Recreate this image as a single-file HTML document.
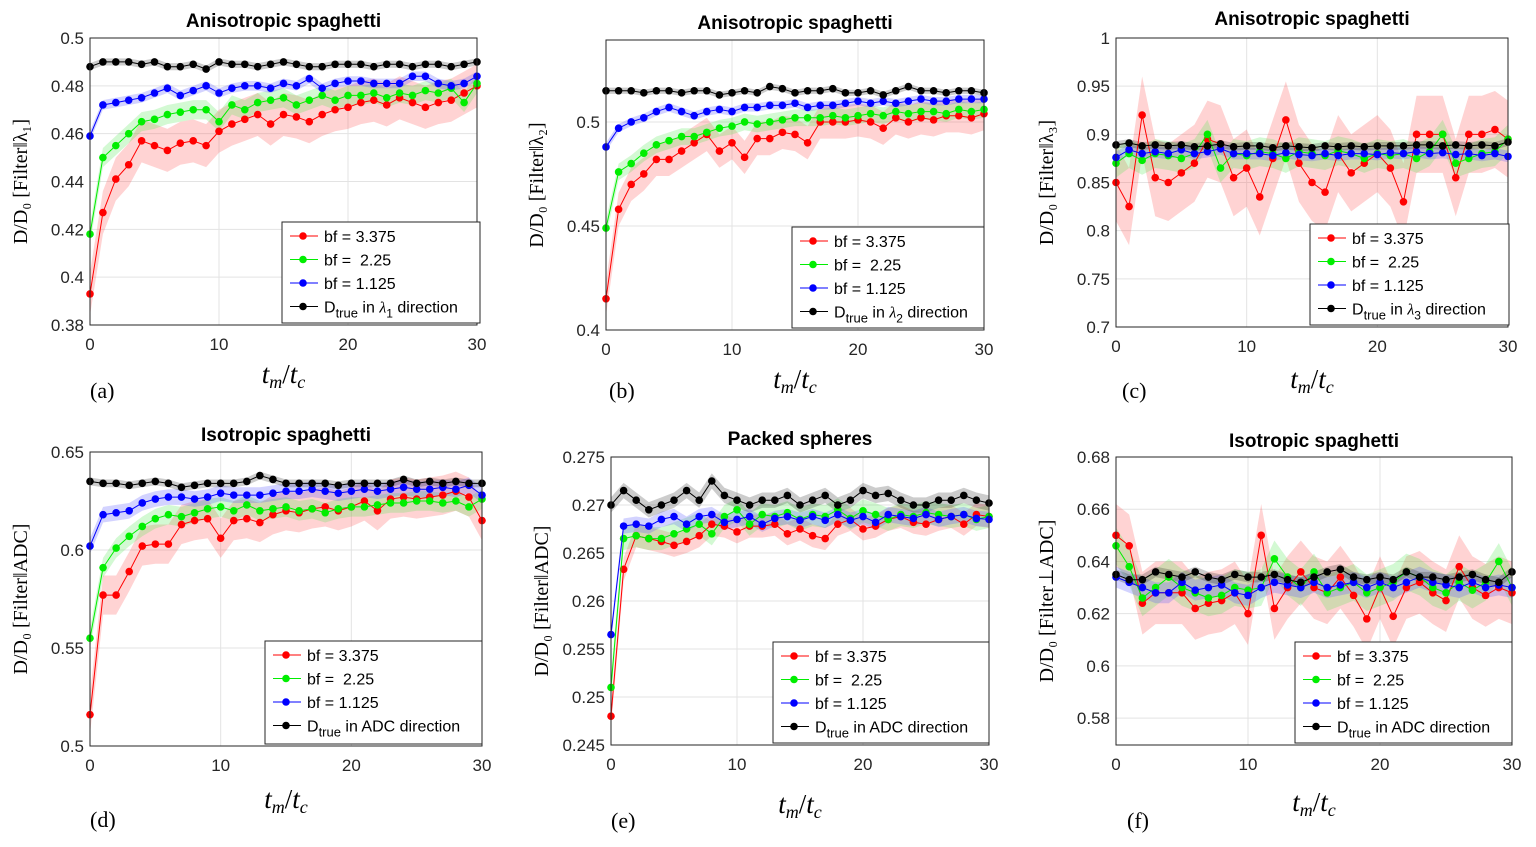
<!DOCTYPE html>
<html><head><meta charset="utf-8"><style>
body{margin:0;background:#fff}
svg{display:block}
text{font-family:"Liberation Sans",sans-serif;white-space:pre}
.ser{font-family:"Liberation Serif",serif}
</style></head><body>
<svg id="fig" width="1536" height="847" viewBox="0 0 1536 847"></svg>
<script>
const xs=[];for(let i=0;i<=30;i++)xs.push(i);
const xTicks=[0,10,20,30];
// panel a
const aBlack=[0.488,0.490,0.490,0.490,0.489,0.490,0.488,0.488,0.489,0.487,0.490,0.489,0.489,0.488,0.489,0.490,0.489,0.488,0.488,0.489,0.489,0.489,0.488,0.489,0.489,0.488,0.489,0.489,0.488,0.489,0.490];
const aBlue=[0.459,0.472,0.473,0.474,0.475,0.477,0.479,0.476,0.478,0.480,0.477,0.479,0.480,0.480,0.479,0.481,0.480,0.483,0.479,0.481,0.482,0.482,0.481,0.481,0.481,0.484,0.484,0.481,0.480,0.481,0.484];
const aGreen=[0.418,0.450,0.455,0.460,0.465,0.466,0.468,0.469,0.470,0.470,0.465,0.472,0.470,0.473,0.474,0.475,0.472,0.474,0.476,0.474,0.476,0.476,0.477,0.475,0.477,0.476,0.478,0.477,0.479,0.473,0.481];
const aRed=[0.393,0.427,0.441,0.447,0.457,0.455,0.453,0.456,0.457,0.455,0.461,0.464,0.466,0.468,0.464,0.468,0.467,0.465,0.468,0.470,0.471,0.473,0.474,0.472,0.475,0.473,0.471,0.473,0.474,0.477,0.480];
// panel b
const bBlack=[0.515,0.515,0.515,0.514,0.515,0.515,0.514,0.515,0.515,0.513,0.514,0.515,0.514,0.517,0.516,0.514,0.515,0.515,0.516,0.514,0.514,0.515,0.513,0.515,0.517,0.515,0.515,0.514,0.515,0.515,0.514];
const bBlue=[0.488,0.497,0.500,0.502,0.505,0.507,0.505,0.503,0.505,0.506,0.505,0.507,0.507,0.508,0.508,0.509,0.507,0.508,0.508,0.509,0.510,0.509,0.510,0.509,0.510,0.511,0.510,0.510,0.511,0.511,0.511];
const bGreen=[0.449,0.476,0.480,0.485,0.489,0.491,0.493,0.493,0.495,0.497,0.498,0.500,0.499,0.500,0.501,0.502,0.502,0.502,0.503,0.502,0.503,0.504,0.503,0.505,0.504,0.505,0.505,0.504,0.506,0.505,0.506];
const bRed=[0.415,0.458,0.470,0.475,0.482,0.482,0.486,0.490,0.494,0.486,0.490,0.483,0.492,0.492,0.495,0.494,0.490,0.500,0.500,0.500,0.501,0.500,0.497,0.502,0.500,0.502,0.501,0.503,0.503,0.502,0.504];
// panel c
const cBlack=[0.889,0.891,0.888,0.889,0.888,0.889,0.887,0.888,0.890,0.887,0.888,0.888,0.886,0.888,0.887,0.886,0.888,0.887,0.888,0.887,0.888,0.888,0.888,0.889,0.889,0.888,0.889,0.888,0.889,0.888,0.892];
const cBlue=[0.876,0.884,0.880,0.882,0.880,0.884,0.880,0.882,0.885,0.880,0.880,0.880,0.878,0.881,0.879,0.878,0.880,0.878,0.880,0.880,0.879,0.881,0.880,0.882,0.880,0.881,0.879,0.880,0.878,0.880,0.877];
const cGreen=[0.870,0.880,0.873,0.880,0.878,0.875,0.880,0.900,0.865,0.880,0.878,0.882,0.880,0.875,0.882,0.880,0.878,0.883,0.880,0.875,0.880,0.878,0.880,0.875,0.882,0.900,0.870,0.875,0.880,0.882,0.895];
const cRed=[0.85,0.825,0.92,0.855,0.85,0.86,0.87,0.895,0.89,0.855,0.865,0.835,0.875,0.915,0.87,0.85,0.84,0.88,0.86,0.87,0.88,0.865,0.83,0.9,0.9,0.9,0.855,0.9,0.9,0.905,0.895];
// panel d
const dBlack=[0.635,0.634,0.634,0.633,0.634,0.635,0.634,0.632,0.633,0.634,0.634,0.634,0.635,0.638,0.636,0.634,0.634,0.634,0.634,0.633,0.634,0.634,0.634,0.634,0.636,0.634,0.635,0.634,0.635,0.634,0.634];
const dBlue=[0.602,0.618,0.619,0.620,0.624,0.626,0.627,0.627,0.626,0.627,0.629,0.628,0.628,0.628,0.629,0.630,0.630,0.631,0.630,0.629,0.630,0.631,0.630,0.631,0.632,0.631,0.631,0.632,0.631,0.633,0.628];
const dGreen=[0.555,0.591,0.601,0.607,0.612,0.616,0.618,0.617,0.619,0.621,0.622,0.620,0.623,0.620,0.621,0.622,0.620,0.621,0.619,0.621,0.622,0.622,0.623,0.624,0.624,0.625,0.625,0.624,0.625,0.622,0.626];
const dRed=[0.516,0.577,0.577,0.589,0.602,0.603,0.603,0.613,0.615,0.616,0.606,0.615,0.616,0.614,0.618,0.620,0.619,0.621,0.622,0.620,0.622,0.625,0.620,0.626,0.627,0.626,0.627,0.628,0.630,0.627,0.615];
// panel e
const eBlack=[0.2700,0.2715,0.2705,0.2695,0.2700,0.2705,0.2715,0.2705,0.2725,0.2710,0.2705,0.2700,0.2705,0.2705,0.2710,0.2700,0.2705,0.2710,0.2700,0.2705,0.2715,0.2710,0.2712,0.2705,0.2700,0.2700,0.2705,0.2705,0.2710,0.2705,0.2702];
const eBlue=[0.2565,0.2678,0.2680,0.2678,0.2685,0.2688,0.2680,0.2688,0.2690,0.2682,0.2685,0.2688,0.2680,0.2686,0.2688,0.2684,0.2688,0.2684,0.2690,0.2684,0.2688,0.2682,0.2690,0.2688,0.2686,0.2690,0.2685,0.2688,0.2690,0.2686,0.2685];
const eGreen=[0.2510,0.2665,0.2668,0.2665,0.2665,0.2670,0.2675,0.2680,0.2670,0.2688,0.2695,0.2680,0.2690,0.2688,0.2692,0.2685,0.2690,0.2688,0.2695,0.2686,0.2694,0.2690,0.2685,0.2690,0.2688,0.2692,0.2690,0.2688,0.2690,0.2685,0.2688];
const eRed=[0.2480,0.2633,0.2668,0.2665,0.2662,0.2658,0.2662,0.2668,0.2680,0.2678,0.2672,0.2678,0.2678,0.2680,0.2670,0.2675,0.2668,0.2665,0.2680,0.2685,0.2675,0.2678,0.2685,0.2688,0.2682,0.2680,0.2685,0.2688,0.2680,0.2690,0.2688];
// panel f
const fBlack=[0.635,0.633,0.633,0.636,0.635,0.634,0.636,0.634,0.633,0.635,0.634,0.634,0.635,0.633,0.632,0.634,0.636,0.637,0.634,0.633,0.634,0.633,0.636,0.634,0.634,0.633,0.634,0.635,0.633,0.632,0.636];
const fBlue=[0.634,0.632,0.630,0.628,0.628,0.632,0.629,0.630,0.631,0.628,0.627,0.630,0.632,0.631,0.630,0.632,0.630,0.631,0.632,0.630,0.632,0.630,0.632,0.634,0.632,0.631,0.630,0.632,0.630,0.631,0.630];
const fGreen=[0.646,0.638,0.626,0.630,0.634,0.630,0.628,0.626,0.627,0.630,0.629,0.630,0.641,0.634,0.630,0.636,0.628,0.630,0.632,0.628,0.630,0.632,0.636,0.634,0.630,0.628,0.632,0.629,0.632,0.640,0.630];
const fRed=[0.650,0.646,0.624,0.628,0.628,0.628,0.622,0.624,0.625,0.628,0.620,0.650,0.622,0.630,0.636,0.630,0.628,0.634,0.627,0.618,0.630,0.619,0.630,0.632,0.628,0.625,0.638,0.630,0.627,0.630,0.628];
// band half-widths per series: red, green, blue, black
const aBand=[0.009,0.004,0.002,0.0015];
const bBand=[0.008,0.004,0.002,0.0015];
const cBand=[0.04,0.015,0.006,0.004];
const dBand=[0.01,0.005,0.004,0.002];
const eBand=[0.0012,0.0012,0.0008,0.0008];
const fBand=[0.012,0.007,0.004,0.002];

const NS="http://www.w3.org/2000/svg";
const svg=document.getElementById('fig');
function el(tag,attrs,parent,txt){const e=document.createElementNS(NS,tag);for(const k in attrs)e.setAttribute(k,attrs[k]);if(txt!==undefined)e.textContent=txt;(parent||svg).appendChild(e);return e;}
const cols=['#ff0000','#00ee00','#0000ff','#000000'];
const fills=['rgba(255,80,80,0.25)','rgba(80,230,80,0.25)','rgba(80,80,255,0.25)','rgba(0,0,0,0.2)'];

const panels=[
 {id:'a',title:'Anisotropic spaghetti',x0:90,x1:477,y0:38,y1:325,ymin:0.38,ymax:0.5,yt:[0.38,0.40,0.42,0.44,0.46,0.48,0.5],ylab:'D/D\u2080 [Filter\u2016\u03bb\u2081]',data:[aRed,aGreen,aBlue,aBlack],band:aBand,dir:'\u03bb',sub:'1',leg:[282,222,198,101],ty:20,xly:375,let:[90,398]},
 {id:'b',title:'Anisotropic spaghetti',x0:606,x1:984,y0:40,y1:330,ymin:0.4,ymax:0.5394,yt:[0.4,0.45,0.5],ylab:'D/D\u2080 [Filter\u2016\u03bb\u2082]',data:[bRed,bGreen,bBlue,bBlack],band:bBand,dir:'\u03bb',sub:'2',leg:[792,227,192,101],ty:22,xly:380,let:[609,398]},
 {id:'c',title:'Anisotropic spaghetti',x0:1116,x1:1508,y0:38,y1:327,ymin:0.7,ymax:1,yt:[0.7,0.75,0.8,0.85,0.9,0.95,1],ylab:'D/D\u2080 [Filter\u2016\u03bb\u2083]',data:[cRed,cGreen,cBlue,cBlack],band:cBand,dir:'\u03bb',sub:'3',leg:[1310,224,199,101],ty:18,xly:380,let:[1122,398]},
 {id:'d',title:'Isotropic spaghetti',x0:90,x1:482,y0:452,y1:746,ymin:0.5,ymax:0.65,yt:[0.5,0.55,0.6,0.65],ylab:'D/D\u2080 [Filter\u2016ADC]',data:[dRed,dGreen,dBlue,dBlack],band:dBand,dir:'ADC',sub:'',leg:[265,641,217,103],ty:434,xly:800,let:[90,827]},
 {id:'e',title:'Packed spheres',x0:611,x1:989,y0:457,y1:745,ymin:0.245,ymax:0.275,yt:[0.245,0.25,0.255,0.26,0.265,0.27,0.275],ylab:'D/D\u2080 [Filter\u2016ADC]',data:[eRed,eGreen,eBlue,eBlack],band:eBand,dir:'ADC',sub:'',leg:[773,642,216,101],ty:438,xly:805,let:[611,828]},
 {id:'f',title:'Isotropic spaghetti',x0:1116,x1:1512,y0:457,y1:745,ymin:0.5697,ymax:0.68,yt:[0.58,0.6,0.62,0.64,0.66,0.68],ylab:'D/D\u2080 [Filter\u22a5ADC]',data:[fRed,fGreen,fBlue,fBlack],band:fBand,dir:'ADC',sub:'',leg:[1295,642,217,101],ty:440,xly:803,let:[1127,828]}
];
const names=['red-bf-3375','green-bf-225','blue-bf-1125','black-dtrue'];
const labels=['bf = 3.375','bf =  2.25','bf = 1.125'];
panels.forEach(p=>{
 const g=el('g',{});
 
 
 const X=v=>p.x0+(v-0)/(30-0)*(p.x1-p.x0);
 const Y=v=>p.y1-(v-p.ymin)/(p.ymax-p.ymin)*(p.y1-p.y0);
 xTicks.forEach(t=>{const l=el('line',{x1:X(t),x2:X(t),y1:p.y0,y2:p.y1,stroke:'#e3e3e3','stroke-width':1},g);
  const tx=el('text',{x:X(t),y:p.y1+25,'text-anchor':'middle','font-size':17,fill:'#262626'},g,String(t));});
 p.yt.forEach(t=>{const l=el('line',{x1:p.x0,x2:p.x1,y1:Y(t),y2:Y(t),stroke:'#e3e3e3','stroke-width':1},g);
  const tx=el('text',{x:p.x0-6,y:Y(t)+6,'text-anchor':'end','font-size':17,fill:'#262626'},g,String(t));});
 p.data.forEach((s,k)=>{const h=p.band[k];let d='';xs.forEach((x,i)=>{d+=(i?'L':'M')+X(x)+','+Y(Math.min(p.ymax,s[i]+h));});for(let i=xs.length-1;i>=0;i--)d+='L'+X(xs[i])+','+Y(Math.max(p.ymin,s[i]-h));
  const b=el('path',{d:d+'Z',fill:fills[k],stroke:'none'},g);});
 p.data.forEach((s,k)=>{const pts=xs.map((x,i)=>X(x)+','+Y(s[i])).join(' ');
  const l=el('polyline',{points:pts,fill:'none',stroke:cols[k],'stroke-width':1},g);
  xs.forEach((x,i)=>{const c=el('circle',{cx:X(x),cy:Y(s[i]),r:3.8,fill:cols[k]},g);});});
 const bx=el('rect',{x:p.x0,y:p.y0,width:p.x1-p.x0,height:p.y1-p.y0,fill:'none',stroke:'#262626','stroke-width':1},g);
 const t=el('text',{x:(p.x0+p.x1)/2,y:p.ty+7,'text-anchor':'middle','font-size':19,'font-weight':'bold',fill:'#000'},g,p.title);
 const yc=(p.y0+p.y1)/2;const yx=p.x0-63;const yl=el('text',{x:yx,y:yc,'text-anchor':'middle','font-size':20,transform:'rotate(-90 '+yx+' '+yc+')',class:'ser',fill:'#000'},g,p.ylab);
 const xl=el('text',{x:(p.x0+p.x1)/2,y:p.xly+8,'text-anchor':'middle','font-size':27,'font-style':'italic',class:'ser',fill:'#000'},g);
 
 el('tspan',{},xl,'t');el('tspan',{'font-size':18,dy:5},xl,'m');el('tspan',{dy:-5,'font-style':'normal'},xl,'/');el('tspan',{},xl,'t');el('tspan',{'font-size':18,dy:5},xl,'c');
 const lt=el('text',{x:p.let[0],y:p.let[1],'font-size':22,class:'ser',fill:'#000'},g,'('+p.id+')');
 const [lx,ly,lw,lh]=p.leg;
 const lg=el('g',{},g);
 el('rect',{x:lx,y:ly,width:lw,height:lh,fill:'#fff',stroke:'#262626','stroke-width':1},lg);
 for(let k=0;k<4;k++){const ey=ly+14+k*23.5;
  const e=el('g',{},lg);
  el('line',{x1:lx+8,x2:lx+36,y1:ey,y2:ey,stroke:cols[k],'stroke-width':1},e);
  el('circle',{cx:lx+21,cy:ey,r:3.8,fill:cols[k]},e);
  if(k<3){el('text',{x:lx+42,y:ey+6,'font-size':16,fill:'#000'},e,labels[k]);}
  else{const tt=el('text',{x:lx+42,y:ey+6,'font-size':16,fill:'#000'},e);el('tspan',{},tt,'D');el('tspan',{'font-size':13,dy:5},tt,'true');
   if(p.sub){el('tspan',{dy:-5},tt,' in ');el('tspan',{'font-style':'italic',class:'ser'},tt,'\u03bb');el('tspan',{'font-size':12,dy:5},tt,p.sub);el('tspan',{dy:-5},tt,' direction');}
   else{el('tspan',{dy:-5},tt,' in ADC direction');}}
 }
});
</script>
</body></html>
